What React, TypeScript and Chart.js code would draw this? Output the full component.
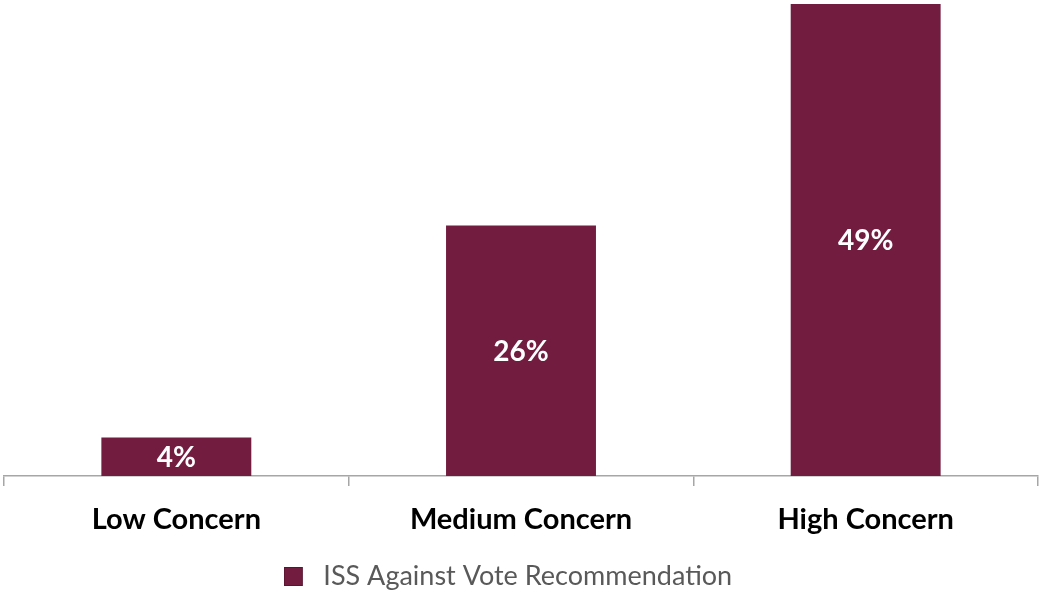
import React, { useEffect, useRef } from "react";
import { Chart, registerables } from "chart.js";

Chart.register(...registerables);

const categories: string[] = ["Low Concern", "Medium Concern", "High Concern"];
const values: number[] = [4, 26, 49];
const seriesLabel = "ISS Against Vote Recommendation";

const BAR_COLOR = "#721C3F";
const FONT = "Lato, 'Open Sans', sans-serif";

function makeLegendSwatch(): HTMLCanvasElement {
  const c = document.createElement("canvas");
  c.width = 26;
  c.height = 19;
  const g = c.getContext("2d")!;
  g.fillStyle = BAR_COLOR;
  g.fillRect(0, 0, 19, 19);
  g.strokeStyle = "#5a1431";
  g.lineWidth = 1;
  g.strokeRect(0.5, 0.5, 18, 18);
  return c;
}

const valueLabels = {
  id: "valueLabels",
  afterDatasetsDraw(chart: any) {
    const ctx = chart.ctx;
    const meta = chart.getDatasetMeta(0);
    ctx.save();
    ctx.fillStyle = "#ffffff";
    ctx.font = `bold 28px ${FONT}`;
    ctx.textAlign = "center";
    ctx.textBaseline = "middle";
    meta.data.forEach((bar: any, i: number) => {
      const { x, y, base } = bar.getProps(["x", "y", "base"], true);
      ctx.fillText(values[i] + "%", x, (y + base) / 2 + 1);
    });
    ctx.restore();
  },
};

const legendShift = {
  id: "legendShift",
  afterLayout(chart: any) {
    const lg = chart.legend;
    if (lg) {
      lg.left -= 13;
      lg.right -= 13;
    }
  },
};

export default function App() {
  const ref = useRef<HTMLCanvasElement | null>(null);
  useEffect(() => {
    if (!ref.current) return;
    const swatch = makeLegendSwatch();
    const chart = new Chart(ref.current, {
      type: "bar",
      data: {
        labels: categories,
        datasets: [
          {
            label: seriesLabel,
            data: values,
            backgroundColor: BAR_COLOR,
            borderWidth: 0,
            barPercentage: 0.87,
            categoryPercentage: 0.5,
          },
        ],
      },
      options: {
        animation: false,
        responsive: false,
        maintainAspectRatio: false,
        layout: { padding: { left: 4, right: 3, top: 4, bottom: 0 } },
        plugins: {
          legend: {
            display: true,
            position: "bottom",
            labels: {
              color: "#595959",
              font: { family: FONT, size: 27 },
              usePointStyle: true,
              pointStyleWidth: 26,
              boxHeight: 19,
              padding: 7,
              generateLabels: () => [
                {
                  text: seriesLabel,
                  fillStyle: BAR_COLOR,
                  strokeStyle: "#5a1431",
                  lineWidth: 0,
                  pointStyle: swatch,
                  hidden: false,
                  datasetIndex: 0,
                  fontColor: "#595959",
                },
              ],
            },
          },
          tooltip: { enabled: false },
        },
        scales: {
          x: {
            offset: true,
            afterFit: (scale: any) => {
              scale.height = 80;
            },
            grid: {
              offset: true,
              drawOnChartArea: false,
              drawTicks: true,
              tickLength: 10,
              color: "#a6a6a6",
              lineWidth: 1.5,
            },
            border: { display: true, color: "#a6a6a6", width: 1.5 },
            ticks: {
              color: "#000000",
              font: { family: FONT, size: 29, weight: "bold", lineHeight: 2.15 },
              padding: 2.5,
            },
          },
          y: {
            display: false,
            min: 0,
            max: 49,
          },
        },
      },
      plugins: [valueLabels, legendShift],
    });
    return () => chart.destroy();
  }, []);
  return (
    <div style={{ position: "fixed", left: 0, top: 0, width: 1041, height: 600, background: "#fff" }}>
      <canvas ref={ref} width={1041} height={600} style={{ width: 1041, height: 600 }} />
    </div>
  );
}
